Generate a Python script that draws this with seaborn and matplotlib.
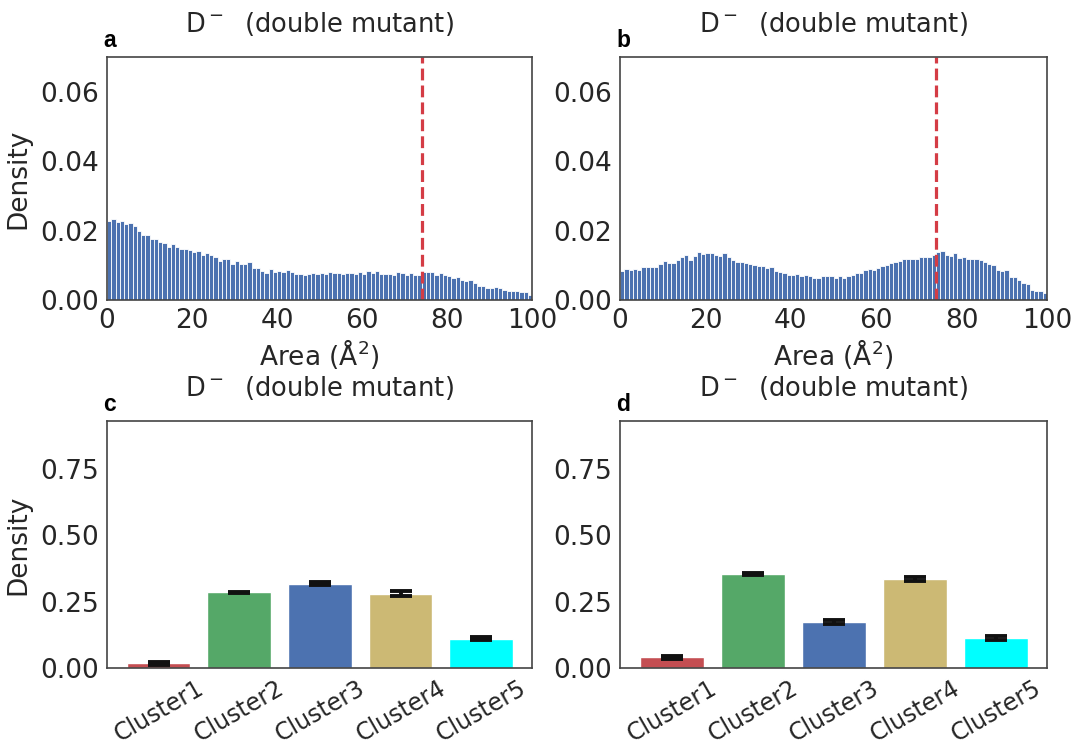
import numpy as np
import pandas as pd
import matplotlib
matplotlib.use("Agg")
import matplotlib.pyplot as plt
import seaborn as sns

# ---------------- data ----------------
bin_edges = list(range(0, 101))
bin_centers = [b + 0.5 for b in range(100)]

density_a = [
    0.0229, 0.0232, 0.0225, 0.0229, 0.0219, 0.0222, 0.0213, 0.0199, 0.0186, 0.0186,
    0.0176, 0.0176, 0.0168, 0.0164, 0.0154, 0.0161, 0.0152, 0.0148, 0.0148, 0.0144,
    0.0138, 0.0141, 0.0131, 0.0135, 0.0129, 0.0125, 0.0112, 0.0119, 0.0119, 0.0105,
    0.0112, 0.0105, 0.0105, 0.0109, 0.0093, 0.0093, 0.0083, 0.0078, 0.0090, 0.0081,
    0.0083, 0.0081, 0.0087, 0.0081, 0.0074, 0.0074, 0.0071, 0.0074, 0.0078, 0.0074,
    0.0078, 0.0074, 0.0081, 0.0078, 0.0078, 0.0074, 0.0078, 0.0078, 0.0074, 0.0081,
    0.0074, 0.0083, 0.0078, 0.0083, 0.0074, 0.0074, 0.0074, 0.0073, 0.0082, 0.0077,
    0.0073, 0.0077, 0.0073, 0.0071, 0.0081, 0.0081, 0.0081, 0.0073, 0.0077, 0.0073,
    0.0069, 0.0063, 0.0066, 0.0059, 0.0054, 0.0058, 0.0050, 0.0041, 0.0041, 0.0035,
    0.0035, 0.0038, 0.0035, 0.0029, 0.0026, 0.0026, 0.0026, 0.0022, 0.0022, 0.0015,
]

density_b = [
    0.0084, 0.0090, 0.0087, 0.0090, 0.0087, 0.0094, 0.0094, 0.0094, 0.0094, 0.0105,
    0.0112, 0.0106, 0.0106, 0.0116, 0.0123, 0.0129, 0.0116, 0.0126, 0.0138, 0.0132,
    0.0135, 0.0135, 0.0129, 0.0126, 0.0135, 0.0123, 0.0116, 0.0110, 0.0110, 0.0106,
    0.0104, 0.0101, 0.0097, 0.0097, 0.0091, 0.0094, 0.0084, 0.0081, 0.0078, 0.0071,
    0.0071, 0.0075, 0.0068, 0.0071, 0.0068, 0.0062, 0.0062, 0.0068, 0.0068, 0.0068,
    0.0064, 0.0068, 0.0064, 0.0068, 0.0071, 0.0078, 0.0078, 0.0087, 0.0090, 0.0087,
    0.0092, 0.0097, 0.0100, 0.0106, 0.0109, 0.0112, 0.0119, 0.0119, 0.0119, 0.0119,
    0.0125, 0.0125, 0.0125, 0.0129, 0.0138, 0.0141, 0.0131, 0.0126, 0.0134, 0.0122,
    0.0125, 0.0119, 0.0119, 0.0119, 0.0116, 0.0109, 0.0104, 0.0100, 0.0087, 0.0084,
    0.0087, 0.0065, 0.0065, 0.0057, 0.0050, 0.0047, 0.0029, 0.0025, 0.0025, 0.0019,
]

threshold = 74

clusters = ["Cluster1", "Cluster2", "Cluster3", "Cluster4", "Cluster5"]
cluster_colors = ["#c44e52", "#55a868", "#4c72b0", "#ccb974", "#00ffff"]
density_c = [0.018, 0.285, 0.318, 0.280, 0.111]
err_c = [0.006, 0.003, 0.005, 0.009, 0.007]
density_d = [0.040, 0.353, 0.173, 0.336, 0.112]
err_d = [0.0045, 0.004, 0.006, 0.008, 0.008]

title_text = "D$^-$  (double mutant)"
panel_letters = ["a", "b", "c", "d"]

# ---------------- style ----------------
sns.set_style("white")
plt.rcParams["font.family"] = ["DejaVu Sans"]
plt.rcParams["axes.edgecolor"] = "#444444"
plt.rcParams["axes.linewidth"] = 1.2
text_color = "#262626"

W, H = 1071, 745
fig = plt.figure(figsize=(W / 100, H / 100), dpi=100)


def px_axes(left, top, right, bottom):
    return fig.add_axes([left / W, 1 - bottom / H, (right - left) / W, (bottom - top) / H])


ax_a = px_axes(107, 57, 532, 300)
ax_b = px_axes(620, 57, 1047, 300)
ax_c = px_axes(107, 421, 532, 668)
ax_d = px_axes(620, 421, 1047, 668)

fs_tick = 19
fs_lab = 19
fs_title = 18.5

for ax, dens in [(ax_a, density_a), (ax_b, density_b)]:
    sns.histplot(x=bin_centers, weights=dens, bins=bin_edges, ax=ax,
                 color="#4c72b0", alpha=1, edgecolor="white", linewidth=0.6,
                 stat="count")
    ax.axvline(threshold, color="#d43c45", ls="--", lw=2.3)
    ax.set_xlim(0, 100)
    ax.set_ylim(0, 0.07)
    ax.set_xticks([0, 20, 40, 60, 80, 100])
    ax.set_yticks([0.0, 0.02, 0.04, 0.06])
    ax.set_yticklabels(["0.00", "0.02", "0.04", "0.06"])
    ax.set_xlabel("Area (Å$^2$)", fontsize=fs_lab, color=text_color, labelpad=2)
    ax.set_ylabel("")

for ax, vals, errs in [(ax_c, density_c, err_c), (ax_d, density_d, err_d)]:
    sns.barplot(x=clusters, y=vals, hue=clusters, palette=cluster_colors,
                ax=ax, errorbar=None, legend=False, saturation=1, width=0.79)
    ax.errorbar(x=list(range(len(clusters))), y=vals, yerr=errs, fmt="none",
                ecolor="#111111", elinewidth=2.8, capsize=8, capthick=2.8)
    ax.set_xlim(-0.64, 4.63)
    ax.set_ylim(0, 0.93)
    ax.set_yticks([0.0, 0.25, 0.5, 0.75])
    ax.set_yticklabels(["0.00", "0.25", "0.50", "0.75"])
    ax.set_xlabel("")
    ax.set_ylabel("")

for ax in [ax_a, ax_b, ax_c, ax_d]:
    ax.tick_params(axis="both", labelsize=fs_tick, colors=text_color, length=0, pad=6)
    for sp in ax.spines.values():
        sp.set_visible(True)
        sp.set_color("#444444")
    ax.set_title(title_text, fontsize=fs_title, color=text_color, pad=18)

for ax in [ax_c, ax_d]:
    for lbl in ax.get_xticklabels():
        lbl.set_rotation(30)
        lbl.set_ha("center")
        lbl.set_fontsize(17)

ax_a.set_ylabel("Density", fontsize=fs_lab, color=text_color, labelpad=6)
ax_c.set_ylabel("Density", fontsize=fs_lab, color=text_color, labelpad=6)

for ax, letter in zip([ax_a, ax_b, ax_c, ax_d], panel_letters):
    bb = ax.get_position()
    fig.text(bb.x0 - 4 / W, bb.y1 + 10 / H, letter, fontsize=16.5, fontweight="bold",
             family=["Liberation Sans", "DejaVu Sans"], color="black",
             ha="left", va="baseline")

fig.savefig("out.png", dpi=100)
